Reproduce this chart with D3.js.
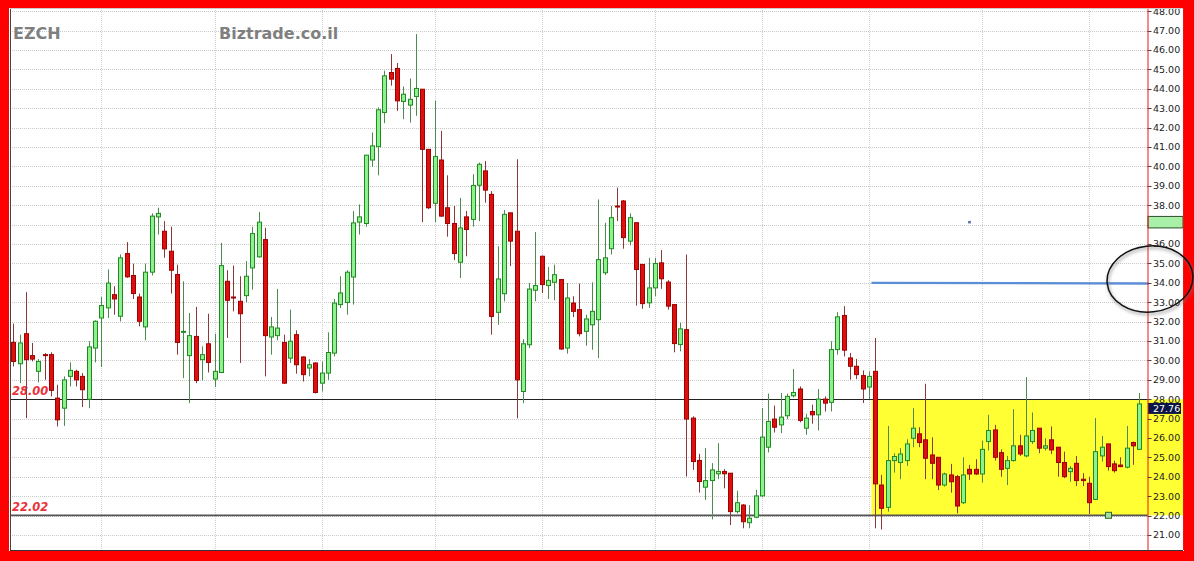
<!DOCTYPE html>
<html><head><meta charset="utf-8">
<script src="https://cdn.jsdelivr.net/npm/d3@7"></script>
<style>html,body{margin:0;padding:0;background:#fff;overflow:hidden}svg{display:block}</style>
</head><body>
<script>
const opens = [30.93,29.83,31.38,30.25,29.44,30.30,30.30,28.06,27.54,29.18,
29.44,29.18,28.00,30.64,32.19,32.71,33.39,32.28,35.51,34.38,
33.27,31.73,34.55,37.40,36.66,35.63,34.43,31.45,30.25,31.24,
30.04,30.86,29.04,29.38,34.08,33.27,33.05,33.34,34.77,35.34,
36.23,31.21,31.28,30.93,30.12,31.33,30.18,29.61,29.87,28.83,
29.35,30.38,32.88,32.99,34.30,37.13,37.06,40.33,41.02,42.78,
44.84,45.05,43.35,43.16,43.60,43.98,40.88,38.10,40.33,37.87,
37.06,35.06,37.40,37.27,39.03,39.77,38.56,32.48,33.44,37.61,
36.66,28.40,30.81,33.62,35.37,33.86,34.03,34.17,30.64,32.96,
32.62,31.50,31.84,32.10,34.52,35.76,37.96,38.22,36.15,37.10,
34.95,32.97,33.74,35.03,34.04,32.88,30.82,31.59,27.03,24.85,
23.47,23.81,24.16,24.28,24.19,22.21,22.55,21.64,21.92,23.02,
25.53,26.98,26.68,27.15,28.18,28.53,26.51,27.37,27.20,28.01,
27.84,30.56,32.32,30.13,29.70,29.22,28.63,29.44,23.58,22.43,
24.84,24.74,24.84,25.99,26.22,25.91,25.13,25.01,23.58,24.10,
24.01,22.67,24.39,24.39,24.15,25.82,26.42,25.25,24.44,24.84,
25.60,25.08,25.82,26.51,25.48,25.91,25.53,24.74,24.27,24.70,
23.88,23.67,22.84,25.08,25.70,24.67,24.61,24.50,25.77,25.42];
const highs = [31.90,31.33,33.52,30.90,30.07,30.38,30.42,28.75,29.18,29.90,
29.52,29.35,30.99,32.07,33.27,34.69,33.83,35.46,36.10,34.99,
33.45,34.99,37.58,37.87,37.18,36.89,34.94,34.08,32.45,32.76,
30.73,32.41,31.38,36.06,34.65,34.89,34.34,35.12,36.89,37.65,
36.84,32.24,33.69,31.33,32.62,31.55,30.21,30.07,29.90,29.95,
31.45,33.17,34.34,34.65,37.70,38.04,40.60,41.75,43.04,44.93,
45.79,45.33,44.12,44.53,46.82,43.98,40.88,43.38,41.83,39.54,
37.96,38.38,37.70,39.60,40.20,40.28,38.73,35.89,37.75,37.61,
40.37,31.10,33.99,36.62,35.41,34.82,34.94,34.20,33.99,33.31,
33.96,32.36,34.03,38.30,37.10,37.96,38.91,38.27,37.58,37.10,
34.95,35.29,35.29,35.69,34.14,32.88,31.94,35.46,27.12,25.19,
25.48,24.71,25.74,24.40,24.20,23.29,22.60,22.55,23.33,27.55,
28.29,27.67,28.32,28.29,29.56,28.66,27.25,27.72,28.53,28.15,
30.99,32.49,32.80,30.39,30.08,29.49,29.44,31.16,24.10,26.63,
25.22,25.48,25.94,27.54,26.56,28.80,26.04,25.01,24.22,24.67,
24.10,25.01,24.62,24.91,25.87,27.20,26.68,25.42,25.08,27.49,
26.17,29.14,27.32,26.51,25.99,26.60,25.53,25.30,24.56,25.08,
24.19,24.01,27.03,26.11,25.70,24.84,25.01,26.63,25.82,28.32];
const lows = [29.69,28.83,27.03,29.95,28.87,29.00,28.15,26.60,26.63,28.66,
28.66,27.60,27.54,29.90,29.66,32.19,32.36,32.02,34.26,33.17,
31.76,31.04,34.38,36.49,35.29,33.45,30.30,29.09,27.80,28.83,
28.97,29.38,28.63,29.35,31.16,32.53,29.87,33.00,33.65,35.30,
29.18,30.30,31.04,28.80,29.87,29.32,28.92,29.18,28.30,28.40,
29.00,30.21,32.70,32.36,32.88,36.49,36.89,39.99,39.54,42.23,
44.16,42.86,42.43,42.26,42.61,37.13,37.80,37.13,37.40,36.38,
35.17,34.25,35.37,36.90,37.18,38.13,31.33,31.84,33.05,34.86,
27.02,27.80,30.64,33.05,33.48,33.17,33.10,30.55,30.35,32.24,
31.24,30.76,30.55,30.12,34.40,35.46,37.19,35.76,35.93,32.83,
32.66,32.71,33.31,33.69,32.62,30.42,30.47,24.02,24.36,23.19,
22.81,21.81,23.88,23.41,21.52,22.12,21.35,21.35,21.87,22.95,
25.26,26.29,26.25,26.98,28.10,26.81,26.17,26.74,26.39,27.37,
27.37,30.30,30.21,29.01,29.04,27.81,28.00,21.35,21.29,22.21,
24.22,23.88,24.56,25.53,25.53,23.88,23.88,23.32,23.50,23.19,
22.12,22.60,23.84,24.10,23.70,25.36,24.84,24.01,23.58,24.79,
25.08,25.01,25.70,25.22,25.36,25.18,24.01,23.93,23.75,23.53,
23.53,22.09,22.81,24.79,24.32,24.22,24.50,24.44,24.62,25.42];
const closes = [29.95,30.90,30.04,30.07,29.95,30.28,28.46,26.94,29.00,29.49,
29.00,28.49,30.70,32.02,32.83,33.99,33.17,35.29,34.31,33.45,
32.02,34.55,37.44,37.58,35.75,34.65,30.93,31.50,31.28,28.97,
30.30,29.90,29.44,34.89,33.10,33.22,32.41,34.34,36.54,37.13,
31.28,31.73,31.67,28.83,30.99,29.78,29.27,29.78,28.35,29.35,
30.41,32.96,33.48,34.55,37.09,37.40,40.58,41.06,42.92,44.67,
44.50,43.38,43.72,43.46,44.02,40.88,37.87,40.51,37.44,37.06,
35.51,36.83,36.75,39.02,40.11,38.78,32.27,34.20,37.53,36.15,
29.00,30.86,33.68,33.86,33.91,34.13,34.42,30.59,33.22,32.53,
31.38,32.14,32.53,35.20,35.29,37.36,37.92,36.33,37.36,34.69,
32.93,33.74,35.00,34.21,32.80,30.87,31.63,26.98,24.79,23.76,
23.81,24.36,24.28,24.16,22.21,22.67,21.69,21.87,23.02,26.05,
26.86,26.56,27.08,28.15,28.35,26.91,27.03,27.20,28.01,27.80,
30.56,32.25,30.53,29.70,29.27,28.53,29.18,23.64,22.38,24.84,
25.05,25.18,25.70,26.51,25.77,24.96,24.70,23.58,24.15,23.75,
22.50,24.10,24.15,24.15,25.42,26.39,25.01,24.39,24.84,25.60,
25.18,26.11,26.39,25.48,25.60,25.39,24.74,24.01,24.44,23.81,
23.81,22.67,25.30,25.53,24.53,24.32,24.53,25.48,25.60,27.76];

const priceTicks = d3.range(21, 49);           // 21.00 ... 48.00
const monthGridIdx = [14, 32, 49, 67, 84, 102, 119, 136, 154, 171];
const supportLevels = [28.00, 22.02];
const zoneStartIdx = 137;                      // yellow consolidation zone
const zoneTop = 28.00, zoneBottom = 22.02;
const targetLevel = 34.00;
const lastPrice = 27.76;
const alertPrice = 37.14, alertIdx = 152;
const markerIdx = 174;
const ticker = "EZCH", site = "Biztrade.co.il";

const W = 1194, H = 561;
const plotL = 10, plotR = 1147.5, plotT = 8, plotB = 550, axisR = 1183;

const svg = d3.select("body").append("svg").attr("width", W).attr("height", H)
  .style("font-family", "'DejaVu Sans', Verdana, sans-serif");

const n = opens.length;
const x = d3.scaleBand().domain(d3.range(n)).range([10.15, 1142.45]);
const cx = i => Math.round(x(i) + x.bandwidth() / 2) + 0.5;
const y = d3.scaleLinear().domain([21, 48]).range([535.1, 11.2]);

// background
svg.append("rect").attr("width", W).attr("height", H).attr("fill", "#ff0000");
svg.append("rect").attr("x", 9).attr("y", 8).attr("width", axisR - 9 + 1).attr("height", plotB - 8 + 1).attr("fill", "#fff");

// grid
const grid = svg.append("g");
grid.selectAll("line.h").data(priceTicks).join("line")
  .attr("x1", plotL).attr("x2", plotR)
  .attr("y1", d => Math.round(y(d)) + 0.5).attr("y2", d => Math.round(y(d)) + 0.5)
  .attr("stroke", "#c9c9c9").attr("stroke-dasharray", "1,1");
grid.selectAll("line.v").data(monthGridIdx).join("line")
  .attr("x1", d => cx(d)).attr("x2", d => cx(d))
  .attr("y1", plotT).attr("y2", plotB)
  .attr("stroke", "#d0d0d0").attr("stroke-dasharray", "1,1");

// yellow zone
const zx0 = x(zoneStartIdx) - (x.step() - x.bandwidth()) / 2 - 0.5;
svg.append("rect").attr("x", zx0).attr("y", y(zoneTop))
  .attr("width", axisR - zx0).attr("height", y(zoneBottom) - y(zoneTop))
  .attr("fill", "#ffff33");

// support lines
svg.append("line").attr("x1", plotL).attr("x2", plotR)
  .attr("y1", Math.round(y(supportLevels[0])) + 0.5).attr("y2", Math.round(y(supportLevels[0])) + 0.5)
  .attr("stroke", "#222").attr("stroke-width", 1);
svg.append("line").attr("x1", plotL).attr("x2", plotR)
  .attr("y1", y(supportLevels[1])).attr("y2", y(supportLevels[1]))
  .attr("stroke", "#555").attr("stroke-width", 1.8);

supportLevels.forEach(v => {
  svg.append("text").attr("x", 12).attr("y", y(v) - 4)
    .attr("font-size", 11.5).attr("font-weight", "bold").attr("font-style", "italic")
    .attr("fill", "#e8323c").text(v.toFixed(2));
});

// target line
svg.append("line").attr("x1", zx0).attr("x2", plotR + 1)
  .attr("y1", y(targetLevel)).attr("y2", y(targetLevel) + 0.6)
  .attr("stroke", "#5b8ed6").attr("stroke-width", 2.4);

// alert dot
svg.append("rect").attr("x", cx(alertIdx) - 1.5).attr("y", y(alertPrice) - 1)
  .attr("width", 3).attr("height", 2.5).attr("fill", "#5f7fa8");

// candles
const idx = d3.range(n);
const up = i => closes[i] >= opens[i];
const cg = svg.append("g");
cg.selectAll("line.w").data(idx).join("line")
  .attr("x1", cx).attr("x2", cx)
  .attr("y1", i => y(highs[i])).attr("y2", i => y(lows[i]))
  .attr("stroke", i => up(i) ? "#4e8a4e" : "#8c3838").attr("stroke-width", 1);
cg.selectAll("rect.b").data(idx).join("rect")
  .attr("x", i => cx(i) - 2).attr("width", 4)
  .attr("y", i => y(Math.max(opens[i], closes[i])))
  .attr("height", i => Math.max(1, Math.abs(y(opens[i]) - y(closes[i]))))
  .attr("fill", i => up(i) ? "#8ef08e" : "#dd1010")
  .attr("stroke", i => up(i) ? "#1f8a1f" : "#a00000").attr("stroke-width", 1);

// marker square on 22.02 line
svg.append("rect").attr("x", cx(markerIdx) - 3).attr("y", y(supportLevels[1]) - 3)
  .attr("width", 6).attr("height", 6).attr("fill", "#a8dca8").attr("stroke", "#2d6e2d");

// titles
svg.append("text").attr("x", 13).attr("y", 39).attr("font-size", 16).attr("font-weight", "bold")
  .attr("fill", "#7f7f7f").text(ticker);
svg.append("text").attr("x", 219).attr("y", 39).attr("font-size", 16).attr("font-weight", "bold")
  .attr("fill", "#7f7f7f").text(site);

// axis
const ax = svg.append("g");
ax.selectAll("line.t").data(priceTicks).join("line")
  .attr("x1", plotR).attr("x2", plotR + 4)
  .attr("y1", d => Math.round(y(d)) + 0.5).attr("y2", d => Math.round(y(d)) + 0.5)
  .attr("stroke", "#444");
ax.selectAll("text").data(priceTicks).join("text")
  .attr("x", 1153).attr("y", d => y(d)).attr("dy", "0.35em")
  .attr("font-size", 9.5).attr("fill", "#222").text(d => d.toFixed(2));

// alert label on axis
svg.append("rect").attr("x", plotR + 0.5).attr("y", y(alertPrice) - 5.5)
  .attr("width", axisR - plotR - 0.5).attr("height", 11.5)
  .attr("fill", "#a8f0a8").attr("stroke", "#2e4e2e");

// last price label
svg.append("rect").attr("x", plotR + 0.5).attr("y", y(lastPrice) - 1)
  .attr("width", 33).attr("height", 11).attr("fill", "#0b1546");
svg.append("text").attr("x", 1153).attr("y", y(lastPrice) + 4.5).attr("dy", "0.35em")
  .attr("font-size", 9.5).attr("fill", "#fff").text(lastPrice.toFixed(2));

// frame lines
svg.append("line").attr("x1", plotR + 0.5).attr("x2", plotR + 0.5).attr("y1", plotT).attr("y2", plotB)
  .attr("stroke", "#e81818");
svg.append("line").attr("x1", axisR + 0.5).attr("x2", axisR + 0.5).attr("y1", plotT).attr("y2", plotB)
  .attr("stroke", "#e81818");
svg.append("line").attr("x1", plotL + 0.5).attr("x2", plotL + 0.5).attr("y1", plotT).attr("y2", plotB)
  .attr("stroke", "#444");
svg.append("line").attr("x1", plotL).attr("x2", axisR).attr("y1", plotB + 0.5).attr("y2", plotB + 0.5)
  .attr("stroke", "#333");
svg.append("line").attr("x1", plotL).attr("x2", axisR).attr("y1", plotT + 0.5).attr("y2", plotT + 0.5)
  .attr("stroke", "#ccc");

// red frame on top
svg.append("rect").attr("x", 0).attr("y", 0).attr("width", W).attr("height", 8).attr("fill", "#ff0000");
svg.append("rect").attr("x", 0).attr("y", 0).attr("width", 9).attr("height", H).attr("fill", "#ff0000");
svg.append("rect").attr("x", 1185).attr("y", 0).attr("width", 9).attr("height", H).attr("fill", "#ff0000");
svg.append("rect").attr("x", 0).attr("y", 551).attr("width", W).attr("height", 10).attr("fill", "#ff0000");

// hand-drawn ellipse highlight
const defs = svg.append("defs");
defs.append("filter").attr("id", "blur").append("feGaussianBlur").attr("stdDeviation", 1.6);
svg.append("ellipse").attr("cx", 1151).attr("cy", 281).attr("rx", 43).attr("ry", 33)
  .attr("transform", "rotate(-6 1151 281)")
  .attr("fill", "none").attr("stroke", "#777").attr("stroke-width", 3).attr("opacity", 0.45)
  .attr("filter", "url(#blur)");
svg.append("ellipse").attr("cx", 1150).attr("cy", 279).attr("rx", 43).attr("ry", 33)
  .attr("transform", "rotate(-6 1150 279)")
  .attr("fill", "none").attr("stroke", "#111").attr("stroke-width", 1.5);
</script>
</body></html>
